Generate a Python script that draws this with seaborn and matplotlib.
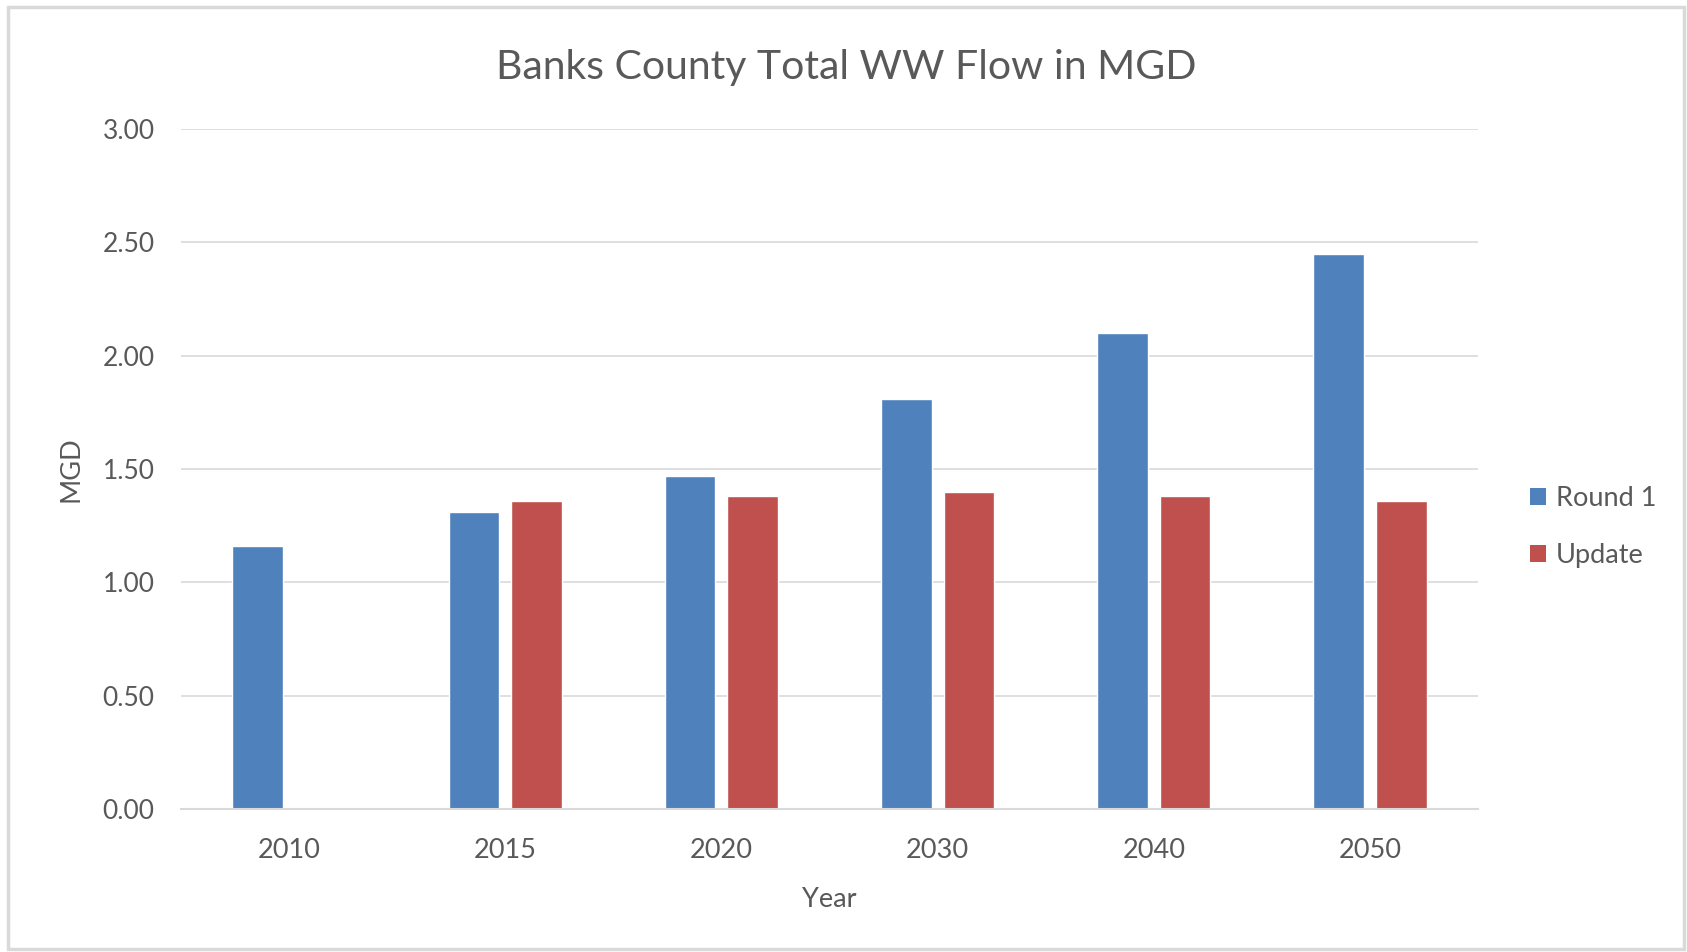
import numpy as np
import pandas as pd
import matplotlib
matplotlib.use("Agg")
import matplotlib.pyplot as plt
from matplotlib.patches import Patch, Rectangle
import seaborn as sns

years = ["2010", "2015", "2020", "2030", "2040", "2050"]
round1 = [1.16, 1.31, 1.47, 1.81, 2.10, 2.45]
update = [np.nan, 1.36, 1.38, 1.40, 1.38, 1.36]
series = ["Round 1", "Update"]
colors = ["#4F81BD", "#C0504D"]
yticks = [0.0, 0.5, 1.0, 1.5, 2.0, 2.5, 3.0]

df = pd.DataFrame({
    "Year": years * 2,
    "MGD": round1 + update,
    "Series": [series[0]] * len(years) + [series[1]] * len(years),
})

sns.set_theme(style="white")
plt.rcParams["font.family"] = ["Lato", "DejaVu Sans"]
txt = "#595959"
grid = "#D9D9D9"

W, H = 1687, 952
fig = plt.figure(figsize=(W / 100, H / 100), dpi=100)
ax = fig.add_axes([181 / W, 1 - 809 / H, (1478 - 181) / W, (809 - 129) / H])

sns.barplot(data=df, x="Year", y="MGD", hue="Series", order=years,
            hue_order=series, palette=colors, width=0.58, gap=0.19,
            saturation=1, ax=ax, legend=False, errorbar=None)

ax.set_xlim(-0.5, len(years) - 0.5)
ax.set_ylim(0, 3.0)
ax.set_yticks(yticks)
ax.set_yticklabels([f"{v:.2f}" for v in yticks])
ax.yaxis.grid(True, color=grid, linewidth=1.2)
ax.set_axisbelow(True)
for s in ["top", "right", "left"]:
    ax.spines[s].set_visible(False)
ax.spines["bottom"].set_color(grid)
ax.spines["bottom"].set_linewidth(1.5)

ax.tick_params(axis="y", length=0, pad=19, labelsize=19, labelcolor=txt)
ax.tick_params(axis="x", which="major", length=0, pad=21, labelsize=19.5, labelcolor=txt)
ax.set_xticks(np.arange(-0.5, len(years) + 0.5, 1.0), minor=True)
ax.tick_params(axis="x", which="minor", length=7, width=1.5, color=grid, direction="out")

ax.set_xlabel("Year", fontsize=19.5, color=txt, labelpad=17)
ax.set_ylabel("MGD", fontsize=19.5, color=txt, labelpad=14)
ax.set_title("Banks County Total WW Flow in MGD", fontsize=29.5, color=txt,
             pad=36, x=0.513)

handles = [Patch(facecolor=c, edgecolor="none") for c in colors]
fig.legend(handles, series, loc="center left",
           bbox_to_anchor=(1506 / W, 1 - 527 / H), frameon=False,
           fontsize=19.5, labelcolor=txt, handlelength=0.58, handleheight=0.58,
           handletextpad=0.35, labelspacing=1.2)

fig.patches.append(Rectangle((8 / W, 3 / H), (1684 - 8) / W, (945 - 3) / H,
                             transform=fig.transFigure, fill=False,
                             edgecolor=grid, linewidth=2.5))

fig.savefig("out.png", dpi=100, facecolor="white")
